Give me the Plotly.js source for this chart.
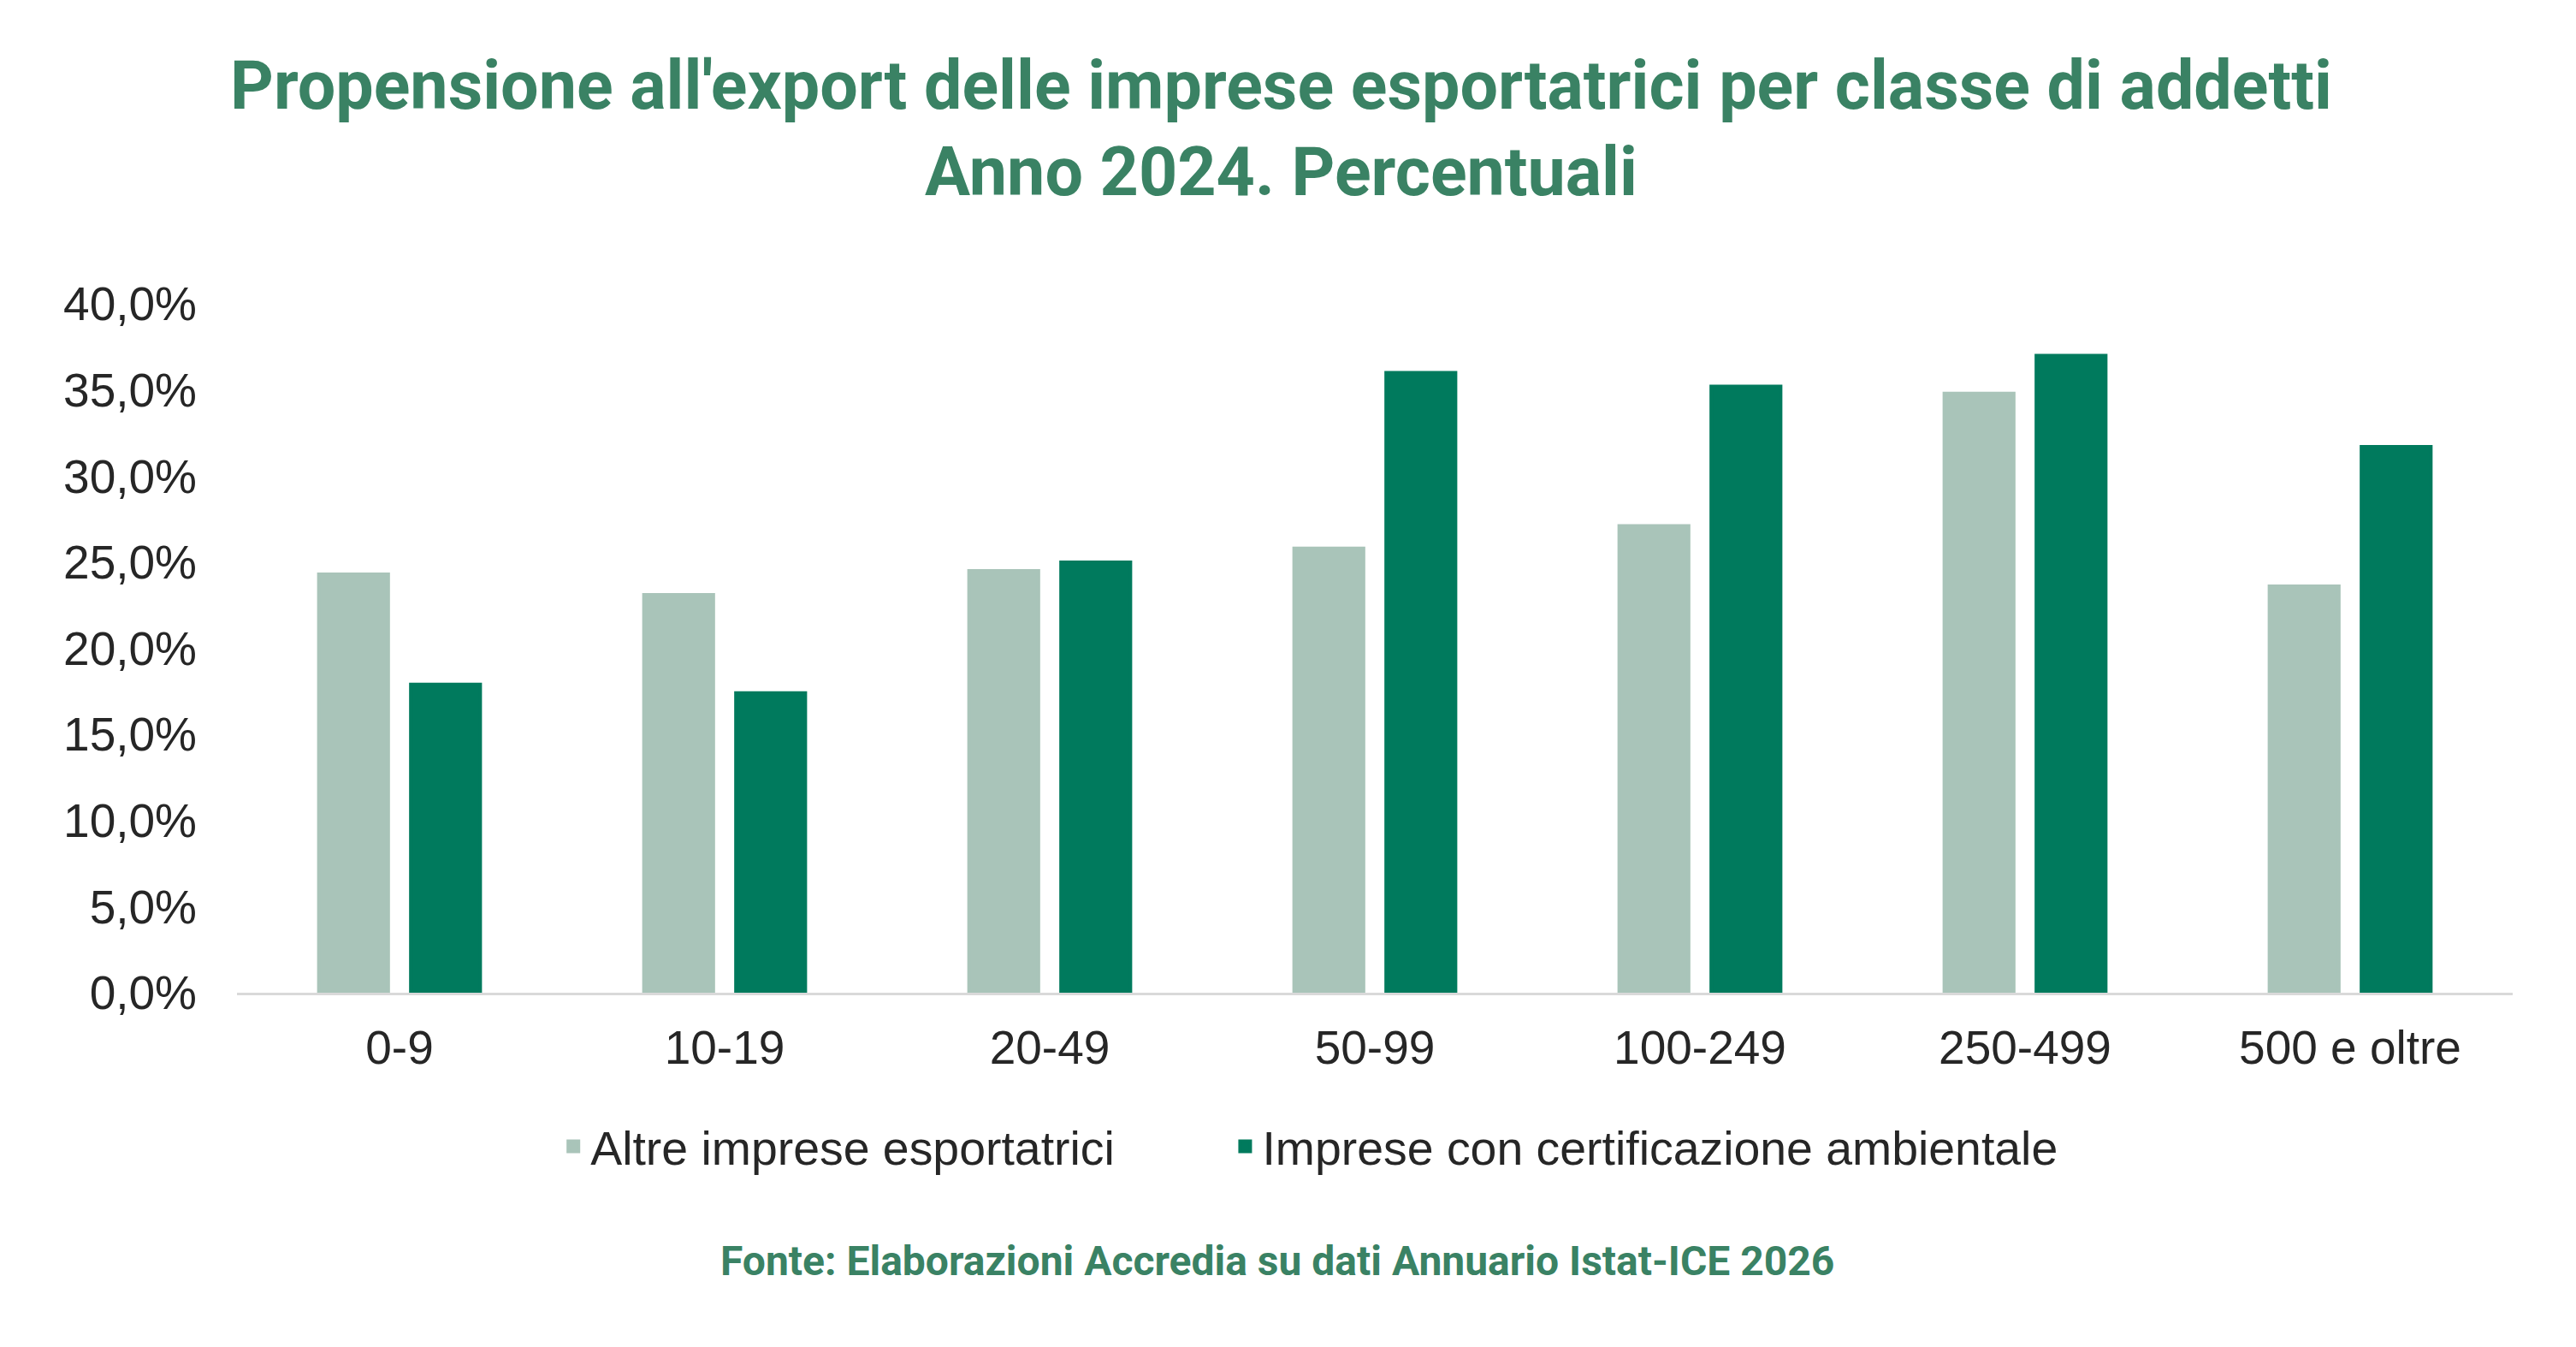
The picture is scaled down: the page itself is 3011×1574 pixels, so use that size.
<!DOCTYPE html>
<html>
<head>
<meta charset="utf-8">
<script src="https://cdn.plot.ly/plotly-3.0.1.min.js"></script>
<style>
  html, body { margin: 0; padding: 0; background: #fff; }
  #chart { width: 3011px; height: 1574px; }
</style>
</head>
<body>
<div id="chart"></div>
<script>
let classi = ['0-9', '10-19', '20-49', '50-99', '100-249', '250-499', '500 e oltre'];
let altreImprese = [24.3, 23.1, 24.5, 25.8, 27.1, 34.8, 23.6];
let impreseCertificate = [17.9, 17.4, 25.0, 36.0, 35.2, 37.0, 31.7];
let yTicks = [0, 5, 10, 15, 20, 25, 30, 35, 40];
let yTickLabels = ['0,0%', '5,0%', '10,0%', '15,0%', '20,0%', '25,0%', '30,0%', '35,0%', '40,0%'];

let nomeAltre = 'Altre imprese esportatrici';
let nomeCert = 'Imprese con certificazione ambientale';
let titolo1 = "Propensione all'export delle imprese esportatrici per classe di addetti";
let titolo2 = 'Anno 2024. Percentuali';
let fonte = 'Fonte: Elaborazioni Accredia su dati Annuario Istat-ICE 2026';

let chiaro = '#a9c4b9';
let scuro = '#007a5d';
let verdeTesto = '#3a8264';
let testo = '#262626';

let trace1 = {
  type: 'bar',
  x: classi,
  y: altreImprese,
  name: nomeAltre,
  legend: 'legend',
  marker: { color: chiaro, line: { color: chiaro, width: 4 } },
  hoverinfo: 'none'
};

let trace2 = {
  type: 'bar',
  x: classi,
  y: impreseCertificate,
  name: nomeCert,
  legend: 'legend2',
  marker: { color: scuro, line: { color: scuro, width: 4 } },
  hoverinfo: 'none'
};

// una legenda per serie, cosi' la distanza tra le voci e' quella del riferimento
let legendBase = {
  orientation: 'h',
  xanchor: 'left',
  y: -0.2235,
  yanchor: 'middle',
  font: { size: 55.4, color: testo },
  itemclick: false,
  bgcolor: 'rgba(0,0,0,0)'
};

let layout = {
  width: 3011,
  height: 1574,
  margin: { l: 277, r: 74, t: 355, b: 414 },
  paper_bgcolor: '#ffffff',
  plot_bgcolor: '#ffffff',
  font: { family: '"Liberation Sans", Arial, sans-serif', size: 55, color: testo },
  barmode: 'group',
  bargap: 0.434,
  bargroupgap: 0.245,
  showlegend: true,
  legend: Object.assign({}, legendBase, { x: 0.1403 }),
  legend2: Object.assign({}, legendBase, { x: 0.4355 }),
  xaxis: {
    type: 'category',
    range: [-0.5, 6.5],
    showline: true,
    linecolor: '#d9d9d9',
    linewidth: 3,
    ticks: '',
    showgrid: false,
    zeroline: false,
    ticklabelstandoff: 14,
    tickfont: { size: 55, color: testo }
  },
  yaxis: {
    range: [0, 40],
    tickmode: 'array',
    tickvals: yTicks,
    ticktext: yTickLabels,
    showline: false,
    showgrid: false,
    zeroline: false,
    ticks: '',
    ticklabelstandoff: 46,
    tickfont: { size: 55, color: testo }
  },
  annotations: [
    {
      text: titolo1, xref: 'paper', yref: 'paper', x: 0.459, y: 1.317,
      xanchor: 'center', yanchor: 'middle', showarrow: false,
      font: { family: 'Roboto, sans-serif', size: 79, color: verdeTesto, weight: 700 }
    },
    {
      text: titolo2, xref: 'paper', yref: 'paper', x: 0.459, y: 1.191,
      xanchor: 'center', yanchor: 'middle', showarrow: false,
      font: { family: 'Roboto, sans-serif', size: 79, color: verdeTesto, weight: 700 }
    },
    {
      text: fonte, xref: 'paper', yref: 'paper', x: 0.457, y: -0.39,
      xanchor: 'center', yanchor: 'middle', showarrow: false,
      font: { family: 'Roboto, sans-serif', size: 48, color: verdeTesto, weight: 700 }
    }
  ]
};

Plotly.newPlot('chart', [trace1, trace2], layout, { staticPlot: true, displayModeBar: false });
</script>
</body>
</html>
